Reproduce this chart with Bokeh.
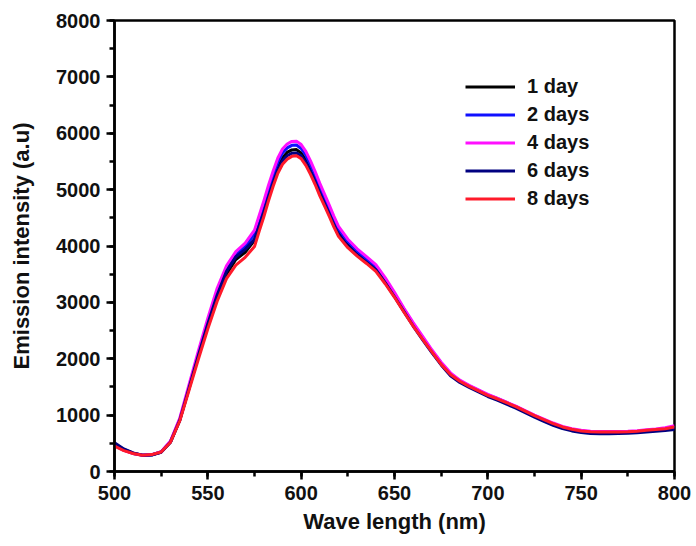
from bokeh.plotting import figure
from bokeh.models import Legend, LegendItem, SingleIntervalTicker, Range1d
from bokeh.embed import file_html
from bokeh.resources import INLINE

wavelength = [500, 505, 510, 515, 520, 525, 530, 535, 540, 545, 550, 555, 560, 565, 570, 575,
              577.5, 580, 582.5, 585, 587.5, 590, 592.5, 595, 597.5, 600, 602.5, 605, 607.5,
              610, 612.5, 615, 617.5,
              620, 625, 630, 635, 640, 645, 650, 655, 660, 665, 670, 675, 680, 685, 690, 695,
              700, 705, 710, 715, 720, 725, 730, 735, 740, 745, 750, 755, 760, 765, 770, 775,
              780, 785, 790, 795, 800]

day1 = [470, 380, 320, 288, 298, 345, 525, 915, 1480, 2050, 2590, 3090, 3500, 3760, 3890, 4100,
        4370, 4630, 4910, 5160, 5400, 5560, 5660, 5705, 5710, 5650, 5530, 5370, 5190,
        4980, 4800, 4610, 4420,
        4240, 4020, 3860, 3730, 3590, 3360, 3110, 2850, 2600, 2360, 2130, 1910, 1720, 1600, 1510, 1430,
        1350, 1285, 1215, 1145, 1065, 985, 910, 840, 780, 740, 710, 695, 690, 690, 690, 695,
        705, 720, 735, 750, 770]
day2 = [490, 390, 325, 290, 295, 345, 530, 930, 1510, 2100, 2660, 3180, 3590, 3850, 3990, 4210,
        4470, 4730, 5010, 5260, 5490, 5650, 5740, 5785, 5790, 5730, 5610, 5440, 5260,
        5050, 4860, 4680, 4480,
        4300, 4080, 3910, 3770, 3630, 3400, 3150, 2880, 2620, 2380, 2140, 1920, 1730, 1610, 1520, 1440,
        1360, 1295, 1225, 1150, 1070, 990, 915, 845, 785, 740, 710, 695, 690, 690, 690, 695,
        705, 720, 735, 750, 770]
day4 = [460, 375, 320, 290, 300, 350, 540, 950, 1550, 2150, 2720, 3250, 3650, 3900, 4050, 4280,
        4540, 4800, 5080, 5330, 5560, 5720, 5810, 5855, 5860, 5800, 5680, 5510, 5320,
        5110, 4920, 4730, 4530,
        4350, 4120, 3950, 3810, 3670, 3440, 3180, 2900, 2640, 2400, 2160, 1940, 1750, 1620, 1530, 1450,
        1370, 1300, 1230, 1160, 1080, 1000, 930, 860, 800, 760, 730, 715, 710, 710, 710, 715,
        725, 740, 755, 775, 810]
day6 = [510, 400, 330, 290, 292, 340, 520, 910, 1490, 2070, 2620, 3130, 3550, 3810, 3940, 4120,
        4360, 4600, 4870, 5120, 5350, 5510, 5600, 5645, 5650, 5600, 5480, 5320, 5140,
        4940, 4750, 4570, 4380,
        4200, 3990, 3840, 3710, 3580, 3350, 3100, 2840, 2580, 2340, 2110, 1890, 1700, 1580, 1490, 1410,
        1330, 1265, 1195, 1125, 1045, 965, 890, 820, 760, 720, 690, 675, 670, 670, 672, 678,
        688, 700, 715, 728, 745]
day8 = [450, 370, 320, 290, 300, 345, 520, 900, 1450, 2000, 2530, 3020, 3420, 3660, 3800, 3990,
        4260, 4520, 4800, 5060, 5290, 5450, 5540, 5590, 5600, 5550, 5430, 5270, 5090,
        4890, 4710, 4530, 4340,
        4170, 3970, 3820, 3690, 3550, 3330, 3090, 2830, 2580, 2350, 2120, 1900, 1720, 1600, 1510, 1430,
        1350, 1290, 1220, 1150, 1070, 990, 920, 850, 790, 750, 720, 705, 700, 700, 700, 705,
        715, 730, 745, 760, 790]

labels = ["1 day", "2 days", "4 days", "6 days", "8 days"]
series = [day1, day2, day4, day6, day8]
colors = ["#000000", "#1010ff", "#ff10ff", "#000080", "#ff1a2a"]

FONT = "Liberation Sans"

p = figure(width=696, height=546, output_backend="svg", toolbar_location=None,
           x_range=Range1d(500, 800), y_range=Range1d(0, 8000),
           min_border_left=114, min_border_right=22, min_border_top=20, min_border_bottom=75)
p.grid.visible = False
p.background_fill_color = "white"
p.border_fill_color = "white"
p.outline_line_color = "black"
p.outline_line_width = 2.5

items = []
for lab, ys, c in zip(labels, series, colors):
    r = p.line(wavelength, ys, line_color=c, line_width=3, line_join="round")
    items.append(LegendItem(label=lab, renderers=[r]))

p.xaxis.ticker = SingleIntervalTicker(interval=50, num_minor_ticks=2)
p.yaxis.ticker = SingleIntervalTicker(interval=1000, num_minor_ticks=2)
for ax in (p.xaxis[0], p.yaxis[0]):
    ax.level = "overlay"
    ax.axis_line_width = 2.5
    ax.axis_line_color = "black"
    ax.major_tick_line_color = "black"
    ax.minor_tick_line_color = "black"
    ax.major_tick_line_width = 2.5
    ax.minor_tick_line_width = 2.5
    ax.major_tick_in = 0
    ax.minor_tick_in = 0
    ax.major_tick_out = 8
    ax.minor_tick_out = 5
    ax.major_label_text_font = FONT
    ax.major_label_text_font_style = "bold"
    ax.major_label_text_font_size = "20px"
    ax.major_label_text_color = "#111111"
    ax.axis_label_text_font = FONT
    ax.axis_label_text_font_style = "bold"
    ax.axis_label_text_font_size = "22px"
    ax.axis_label_text_color = "#111111"
p.xaxis.axis_label = "Wave length (nm)"
p.yaxis.axis_label = "Emission intensity (a.u)"
p.xaxis.major_label_standoff = 6
p.yaxis.major_label_standoff = 6
p.xaxis.axis_label_standoff = 6
p.yaxis.axis_label_standoff = 19

legend = Legend(items=items, location=(351, 261))
legend.label_text_font = FONT
legend.label_text_font_style = "bold"
legend.label_text_font_size = "20px"
legend.label_text_color = "#111111"
legend.glyph_width = 50
legend.glyph_height = 23
legend.label_height = 23
legend.label_standoff = 12
legend.spacing = 5
legend.padding = 0
legend.margin = 0
legend.border_line_alpha = 0
legend.background_fill_alpha = 0
p.add_layout(legend)

open("out.html", "w").write(file_html(p, INLINE))
